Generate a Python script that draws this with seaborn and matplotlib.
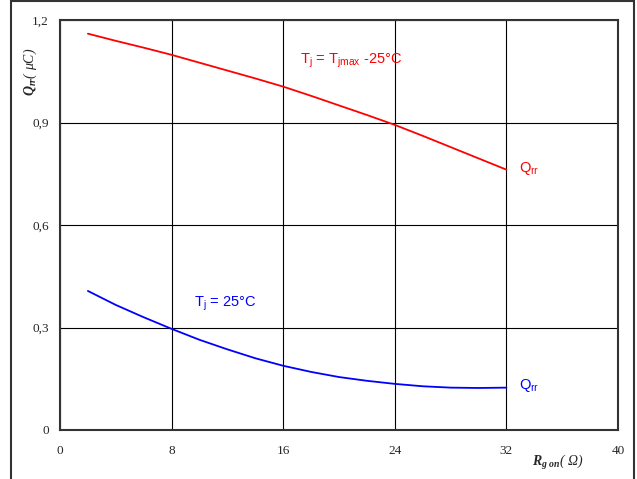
import seaborn as sns
import matplotlib.pyplot as plt
import matplotlib.patches as mpatches
import pandas as pd

# Qrr vs Rgon readings
rg = [2, 4, 6, 8, 10, 12, 14, 16, 18, 20, 22, 24, 26, 28, 30, 32]
qrr_hot = [1.16, 1.139, 1.119, 1.098, 1.075, 1.052, 1.029, 1.005, 0.978, 0.95,
           0.922, 0.893, 0.861, 0.828, 0.795, 0.762]
qrr_cold = [0.407, 0.366, 0.33, 0.296, 0.264, 0.236, 0.21, 0.188, 0.17, 0.155,
            0.144, 0.135, 0.128, 0.124, 0.123, 0.124]

x_ticks = [0, 8, 16, 24, 32, 40]
y_ticks = [0, 0.3, 0.6, 0.9, 1.2]
y_labels = ["0", "0,3", "0,6", "0,9", "1,2"]

sns.set_style("white")
plt.rcParams['mathtext.fontset'] = 'custom'
plt.rcParams['mathtext.rm'] = 'Liberation Sans'
plt.rcParams['mathtext.it'] = 'Liberation Serif:italic:bold'
plt.rcParams['mathtext.bf'] = 'Liberation Serif:italic:bold'

df = pd.concat([
    pd.DataFrame({"rg": rg, "qrr": qrr_hot, "cond": "hot"}),
    pd.DataFrame({"rg": rg, "qrr": qrr_cold, "cond": "cold"}),
])

fig = plt.figure(figsize=(6.37, 4.79), dpi=100)
ax = fig.add_axes([60 / 637, 49 / 479, 558 / 637, 410 / 479])

sns.lineplot(data=df, x="rg", y="qrr", hue="cond",
             palette={"hot": "#ff0000", "cold": "#0000ff"},
             linewidth=1.3, legend=False, ax=ax, zorder=3)

ax.set_xlim(0, 40)
ax.set_ylim(0, 1.2)
ax.set_xticks(x_ticks)
ax.set_yticks(y_ticks)
ax.set_yticklabels(y_labels)
ax.grid(True, color="black", linewidth=0.8)
ax.tick_params(length=0, labelsize=9.5)
ax.tick_params(axis="y", pad=8)
ax.tick_params(axis="x", pad=11)
for lab in ax.get_xticklabels() + ax.get_yticklabels():
    lab.set_fontfamily("Liberation Serif")
for s in ax.spines.values():
    s.set_color("#333333")
    s.set_linewidth(1.5)
ax.set_xlabel("")
ax.set_ylabel("")

# curve annotations
ax.text(17.2, 1.08, r"T$_\mathrm{j}$ = T$_\mathrm{jmax}$ -25°C", color="#ff0000",
        fontsize=10.5, family="Liberation Sans", va="center")
ax.text(9.6, 0.37, r"T$_\mathrm{j}$ = 25°C", color="#0000ff",
        fontsize=10.5, family="Liberation Sans", va="center")
ax.text(32.9, 0.765, r"Q$_\mathrm{rr}$", color="#ff0000",
        fontsize=10.5, family="Liberation Sans", va="center")
ax.text(32.9, 0.13, r"Q$_\mathrm{rr}$", color="#0000ff",
        fontsize=10.5, family="Liberation Sans", va="center")

# axis titles
fig.text(30 / 637, 1 - 72 / 479, r"$Q_{rr}$( μC)", rotation=90, ha="center", va="center",
         fontsize=10, family="Liberation Serif", style="italic")
fig.text(532 / 637, 1 - 462 / 479, r"$R_{g\ on}$( Ω)", ha="left", va="center",
         fontsize=10, family="Liberation Serif", style="italic")

# outer frame
fig.patches.append(mpatches.Rectangle((11 / 637, -0.05), 623 / 637, 1.05 - 1.5 / 479,
                                      transform=fig.transFigure, fill=False,
                                      edgecolor="#333333", linewidth=1.5))

fig.savefig("out.png", dpi=100)
